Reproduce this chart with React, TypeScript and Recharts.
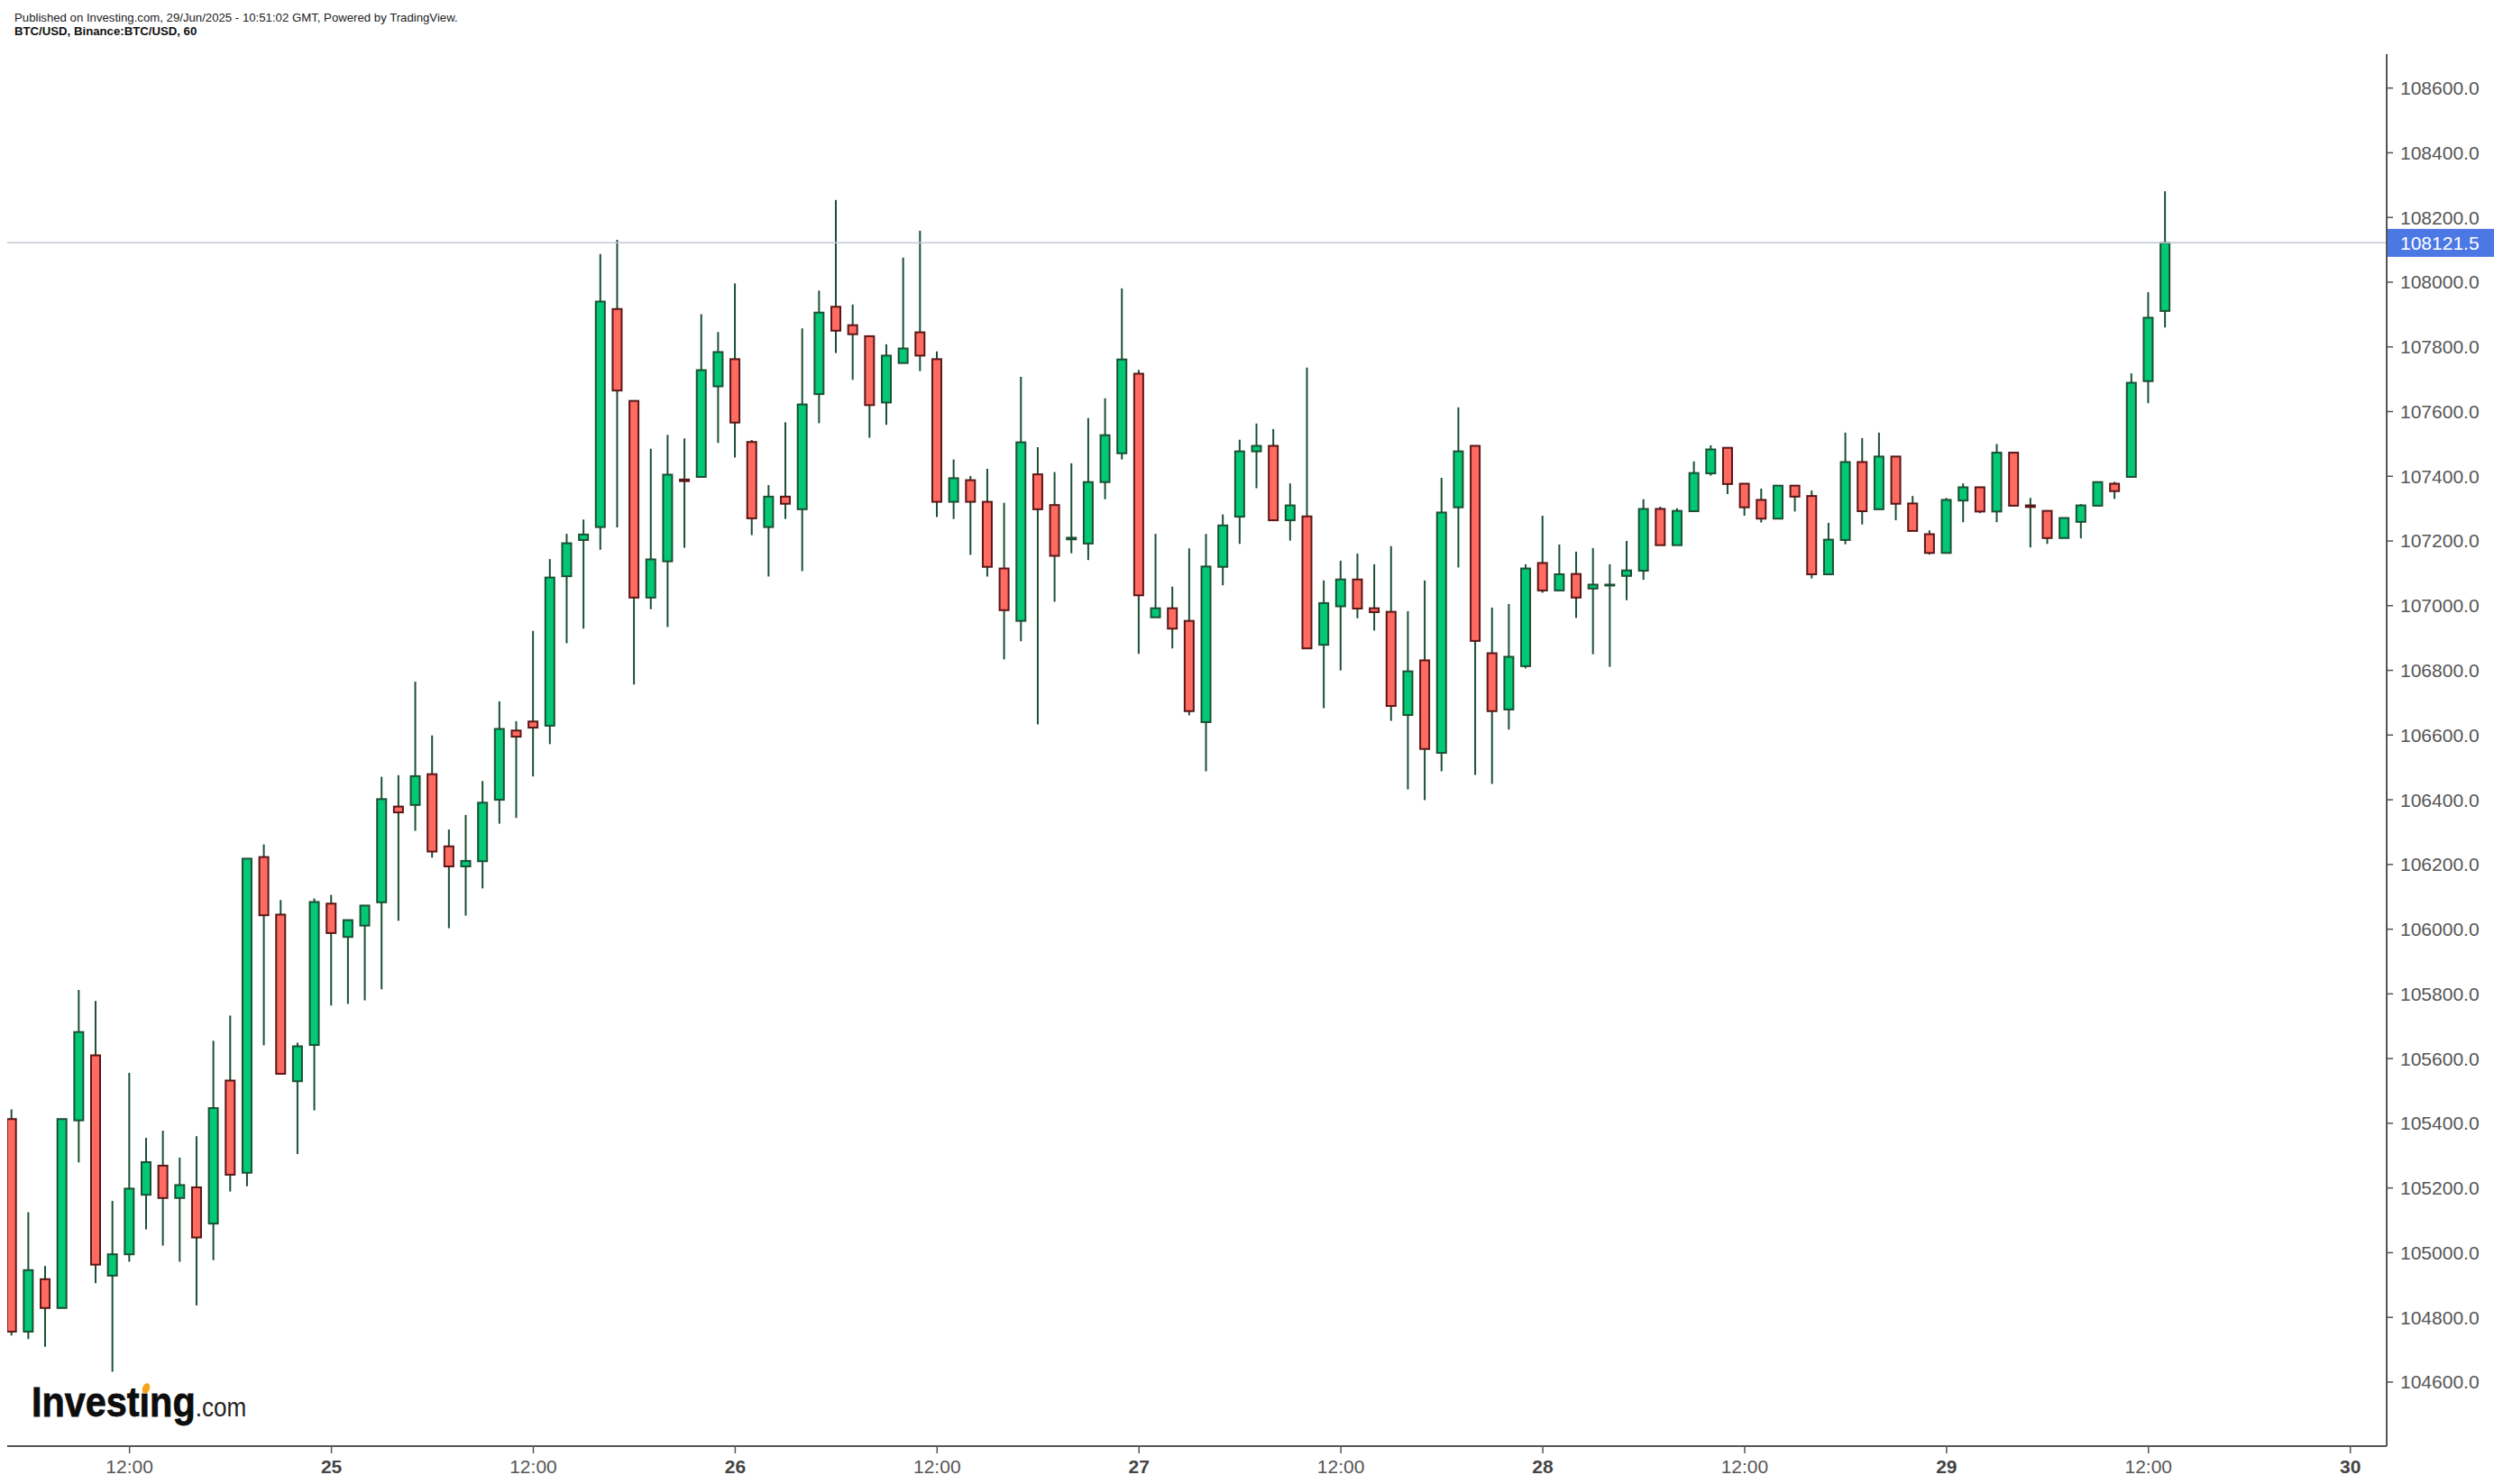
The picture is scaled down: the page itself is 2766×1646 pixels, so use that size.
import React from 'react';
import { ComposedChart, Bar, XAxis, YAxis, ReferenceLine } from 'recharts';

const FONT = '"Liberation Sans", Arial, Helvetica, sans-serif';

const opens = [
  105413, 104756, 104918, 104829, 105409, 105610, 104929, 104995, 105179, 105269,
  105169, 105202, 105090, 105532, 105247, 106223, 106045, 105530, 105642, 106079,
  105976, 106011, 106083, 106379, 106384, 106479, 106256, 106194, 106210, 106400,
  106614, 106642, 106629, 107091, 107203, 107243, 107917, 107633, 107025, 107137,
  107390, 107398, 107678, 107762, 107506, 107243, 107337, 107298, 107654, 107924,
  107867, 107833, 107628, 107750, 107845, 107762, 107321, 107388, 107321, 107115,
  106953, 107406, 107311, 107205, 107192, 107382, 107471, 107717, 106964, 106992,
  106953, 106640, 107120, 107275, 107477, 107494, 107264, 107276, 106879, 106998,
  107081, 106992, 106981, 106662, 106831, 106545, 107304, 107494, 106853, 106679,
  106813, 107132, 107047, 107098, 107053, 107063, 107092, 107108, 107299, 107187,
  107292, 107409, 107488, 107377, 107327, 107269, 107371, 107339, 107097, 107203,
  107444, 107298, 107461, 107316, 107221, 107163, 107325, 107366, 107291, 107473,
  107310, 107293, 107209, 107259, 107309, 107377, 107398, 107694, 107911,
];

const highs = [
  105443, 105125, 104959, 105413, 105812, 105778, 105160, 105556, 105355, 105377,
  105294, 105360, 105655, 105733, 106218, 106262, 106090, 105649, 106095, 106106,
  106028, 106073, 106471, 106476, 106765, 106599, 106308, 106353, 106458, 106704,
  106643, 106922, 107144, 107222, 107266, 108087, 108131, 107633, 107485, 107528,
  107517, 107901, 107846, 107996, 107512, 107373, 107567, 107857, 107974, 108254,
  107931, 107833, 107808, 108076, 108159, 107786, 107452, 107401, 107423, 107318,
  107707, 107490, 107413, 107440, 107580, 107641, 107981, 107729, 107222, 107059,
  107177, 107222, 107282, 107513, 107563, 107546, 107378, 107736, 107078, 107139,
  107161, 107128, 107184, 106983, 107078, 107395, 107613, 107494, 106994, 107005,
  107128, 107278, 107189, 107167, 107178, 107128, 107200, 107329, 107306, 107301,
  107446, 107496, 107488, 107377, 107362, 107371, 107371, 107356, 107256, 107535,
  107518, 107535, 107461, 107339, 107233, 107333, 107378, 107366, 107500, 107473,
  107333, 107293, 107271, 107314, 107382, 107383, 107718, 107969, 108281,
];

const lows = [
  104744, 104733, 104709, 104829, 105279, 104906, 104632, 104972, 105072, 105022,
  104972, 104837, 104977, 105189, 105205, 105641, 105553, 105305, 105440, 105764,
  105769, 105780, 105814, 106026, 106304, 106221, 106003, 106042, 106126, 106326,
  106344, 106472, 106572, 106884, 106929, 107173, 107242, 106756, 106989, 106934,
  107179, 107398, 107503, 107458, 107218, 107090, 107268, 107107, 107564, 107781,
  107698, 107519, 107559, 107750, 107725, 107274, 107268, 107157, 107090, 106834,
  106890, 106633, 107012, 107162, 107141, 107329, 107452, 106851, 106964, 106868,
  106661, 106488, 107063, 107191, 107363, 107264, 107201, 106868, 106683, 106800,
  106961, 106923, 106644, 106432, 106399, 106488, 107118, 106477, 106449, 106617,
  106806, 107040, 107047, 106962, 106850, 106811, 107017, 107080, 107187, 107187,
  107292, 107402, 107345, 107278, 107257, 107269, 107291, 107084, 107097, 107190,
  107251, 107298, 107264, 107231, 107158, 107163, 107258, 107286, 107258, 107309,
  107180, 107191, 107209, 107208, 107309, 107330, 107398, 107626, 107860,
];

const closes = [
  104756, 104946, 104829, 105413, 105682, 104963, 104995, 105198, 105280, 105169,
  105209, 105047, 105447, 105241, 106218, 106043, 105553, 105638, 106084, 105988,
  106028, 106073, 106402, 106361, 106473, 106240, 106194, 106211, 106391, 106619,
  106595, 106623, 107087, 107193, 107220, 107940, 107665, 107025, 107143, 107405,
  107385, 107728, 107784, 107566, 107270, 107337, 107315, 107622, 107906, 107850,
  107839, 107620, 107773, 107795, 107773, 107321, 107394, 107321, 107120, 106986,
  107505, 107298, 107154, 107210, 107382, 107527, 107761, 107032, 106992, 106929,
  106674, 107121, 107248, 107477, 107494, 107264, 107310, 106868, 107008, 107081,
  106991, 106980, 106690, 106797, 106557, 107288, 107477, 106891, 106674, 106842,
  107115, 107047, 107097, 107025, 107065, 107065, 107109, 107299, 107187, 107293,
  107410, 107483, 107376, 107304, 107269, 107371, 107337, 107097, 107204, 107444,
  107292, 107461, 107315, 107231, 107163, 107327, 107366, 107291, 107473, 107309,
  107305, 107209, 107271, 107310, 107382, 107354, 107689, 107890, 108121.5,
];

const xTickIndex = [7, 19, 31, 43, 55, 67, 79, 91, 103, 115, 127, 139];
const xTickLabels = ['12:00', '25', '12:00', '26', '12:00', '27', '12:00', '28', '12:00', '29', '12:00', '30'];
const yTicks = [
  104600, 104800, 105000, 105200, 105400, 105600, 105800, 106000, 106200, 106400, 106600,
  106800, 107000, 107200, 107400, 107600, 107800, 108000, 108200, 108400, 108600,
];
const lastPrice = 108121.5;

const data = opens.map((o, i) => ({
  i,
  open: o,
  high: highs[i],
  low: lows[i],
  close: closes[i],
  range: [lows[i], highs[i]],
}));

const UP_FILL = '#03c977';
const UP_LINE = '#1b5034';
const DOWN_FILL = '#ff6a61';
const DOWN_LINE = '#5a1717';

const Candle = (props: any) => {
  const { x, y, width, height, payload } = props;
  if (x == null || y == null || !payload) return null;
  const top = Math.min(y, y + height);
  const h = Math.abs(height);
  const { open, close, high, low } = payload;
  const k = high - low > 0 ? h / (high - low) : 0;
  const yO = top + (high - open) * k;
  const yC = top + (high - close) * k;
  const up = close >= open;
  const cx = x + width / 2;
  const bTop = Math.min(yO, yC);
  const bH = Math.max(Math.abs(yC - yO), 1);
  return (
    <g>
      <line x1={cx} x2={cx} y1={top} y2={top + h} stroke={UP_LINE} strokeWidth={2} />
      <rect
        x={x + 1}
        y={bTop}
        width={width - 2}
        height={bH}
        fill={up ? UP_FILL : DOWN_FILL}
        stroke={up ? UP_LINE : DOWN_LINE}
        strokeWidth={2}
      />
    </g>
  );
};

const XTick = (props: any) => {
  const { x, y, payload } = props;
  const idx = xTickIndex.indexOf(payload.value);
  const label = idx >= 0 ? xTickLabels[idx] : '';
  const bold = label !== '12:00';
  return (
    <text
      x={x}
      y={y}
      dy="0.71em"
      textAnchor="middle"
      fontSize={21}
      fontFamily={FONT}
      fontWeight={bold ? 700 : 400}
      fill={bold ? '#444' : '#555'}
    >
      {label}
    </text>
  );
};

const LastPriceLabel = (props: any) => {
  const vb = props.viewBox || {};
  const x0 = (vb.x || 0) + (vb.width || 0);
  const yc = vb.y || 0;
  return (
    <g>
      <rect x={x0 - 1} y={yc - 15.5} width={2766 - x0 + 1} height={31} fill="#4c78e4" />
      <text x={x0 + 15} y={yc} dy="0.355em" fontSize={21} fontFamily={FONT} fill="#ffffff">
        {lastPrice.toFixed(1)}
      </text>
    </g>
  );
};

export default function App() {
  return (
    <div
      style={{
        position: 'absolute',
        left: 0,
        top: 0,
        width: 2766,
        height: 1646,
        background: '#ffffff',
        overflow: 'hidden',
      }}
    >
      <ComposedChart
        width={2766}
        height={1646}
        data={data}
        margin={{ top: 60, right: 0, bottom: 0, left: 8 }}
      >
        <XAxis
          dataKey="i"
          type="number"
          domain={[-0.27, 141.16]}
          allowDataOverflow
          ticks={xTickIndex}
          interval={0}
          height={42}
          tick={<XTick />}
          tickSize={8}
          tickMargin={7}
          tickLine={{ stroke: '#555', strokeWidth: 1.5 }}
          axisLine={{ stroke: '#555', strokeWidth: 2 }}
        />
        <YAxis
          orientation="right"
          type="number"
          domain={[104402, 108705]}
          allowDataOverflow
          ticks={yTicks}
          interval={0}
          width={119}
          tickSize={7}
          tickMargin={8}
          tickFormatter={(v: number) => v.toFixed(1)}
          tick={{ fill: '#555', fontSize: 21, fontFamily: FONT }}
          tickLine={{ stroke: '#555', strokeWidth: 1.5 }}
          axisLine={{ stroke: '#555', strokeWidth: 2 }}
        />
        <ReferenceLine
          y={lastPrice}
          stroke="#c4c8d6"
          strokeWidth={1.5}
          label={(p: any) => <LastPriceLabel {...p} />}
        />
        <Bar dataKey="range" barSize={12} shape={<Candle />} isAnimationActive={false} />
      </ComposedChart>
      <svg
        width={2766}
        height={1646}
        style={{ position: 'absolute', left: 0, top: 0, pointerEvents: 'none' }}
      >
        <text x={16} y={23.5} fontSize={13.2} fontFamily={FONT} fill="#222">
          Published on Investing.com, 29/Jun/2025 - 10:51:02 GMT, Powered by TradingView.
        </text>
        <text x={16} y={39} fontSize={13.2} fontWeight={700} fontFamily={FONT} fill="#111">
          BTC/USD, Binance:BTC/USD, 60
        </text>
        <g transform="translate(35,1571) scale(0.9,1)">
          <text x={0} y={0} fontSize={46} fontWeight={700} fontFamily={FONT} fill="#0d0d0d" stroke="#0d0d0d" strokeWidth={0.8}>
            Investıng
            <tspan fontSize={29} fontWeight={400} fill="#222" stroke="none">.com</tspan>
          </text>
        </g>
        <ellipse cx={162} cy={1540} rx={4} ry={6} fill="#f5a21b" transform="rotate(20 162 1540)" />
      </svg>
    </div>
  );
}
